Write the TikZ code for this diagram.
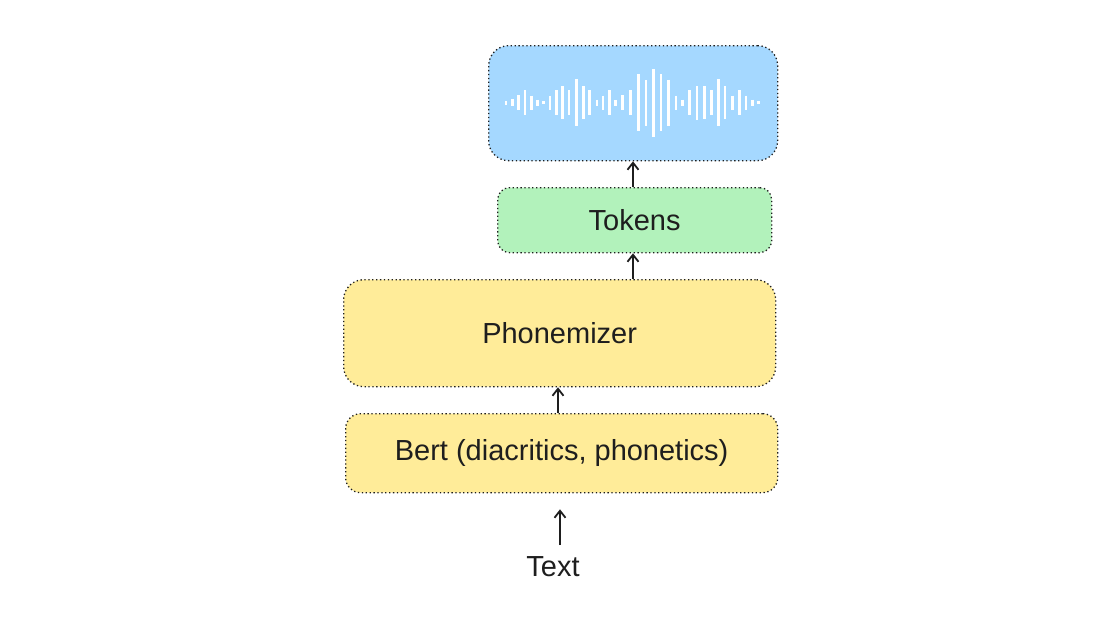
\documentclass[tikz,border=0pt]{standalone}
\usepackage{fontspec}
\setmainfont{Liberation Sans}
\usetikzlibrary{arrows.meta}
\definecolor{ink}{HTML}{1E1E1E}
\definecolor{blu}{HTML}{A5D8FF}
\definecolor{grn}{HTML}{B2F2BB}
\definecolor{yel}{HTML}{FFEC99}
\tikzset{
  box/.style={draw=ink, line width=1.3pt, dash pattern=on 1.3pt off 2.6pt, inner sep=0pt, anchor=north west, font=\fontsize{29}{34}\selectfont, text=ink},
  conn/.style={draw=ink, line width=1.8pt, -{Straight Barb[length=7pt,width=11pt,line width=1.8pt]}},
  wave/.style={draw=white, line width=2.9pt}
}
\begin{document}
\begin{tikzpicture}[x=1pt,y=-1pt]
\useasboundingbox (0,0) rectangle (1120,630);
\node[box, fill=blu, rounded corners=20pt, minimum width=289pt, minimum height=115pt] (audio) at (488,45) {};
\node[box, fill=grn, rounded corners=12pt, minimum width=274pt, minimum height=65pt] (tok) at (497,187) {Tokens};
\node[box, fill=yel, rounded corners=20pt, minimum width=432pt, minimum height=107pt] (phon) at (343,279) {Phonemizer};
\node[box, fill=yel, rounded corners=15pt, minimum width=432pt, minimum height=79pt] (bert) at (345,413) {Bert (diacritics, phonetics)};
\node[font=\fontsize{29}{34}\selectfont, text=ink] (text) at (553,567) {Text};
\begin{scope}[shift={(485,40)}, x=1pt/3, y=-1pt/3]
\foreach \xx/\ll in {63/11,82/20,101/44,120/74,139/43,157/19,176/8,195/43,214/74,233/98,252/76,274/140,295/99,313/75,336/18,354/43,373/74,391/17,413/44,436/74,460/171,483/137,505/203,528/170,550/138,573/43,593/18,613/74,636/101,658/99,679/75,700/140,720/99,743/43,764/74,783/43,802/18,820/8}
  \draw[wave] (\xx,188-\ll/2) -- (\xx,188+\ll/2);
\end{scope}
\coordinate (a1) at (633,0);
\draw[conn] (tok.north -| a1) -- (audio.south -| a1);
\draw[conn] (phon.north -| a1) -- (tok.south -| a1);
\coordinate (a3) at (558,0);
\draw[conn] (bert.north -| a3) -- (phon.south -| a3);
\coordinate (a4s) at (560,545);
\coordinate (a4e) at (560,0);
\draw[conn] (a4s) -- ([yshift=-16pt]bert.south -| a4e);
\end{tikzpicture}
\end{document}
